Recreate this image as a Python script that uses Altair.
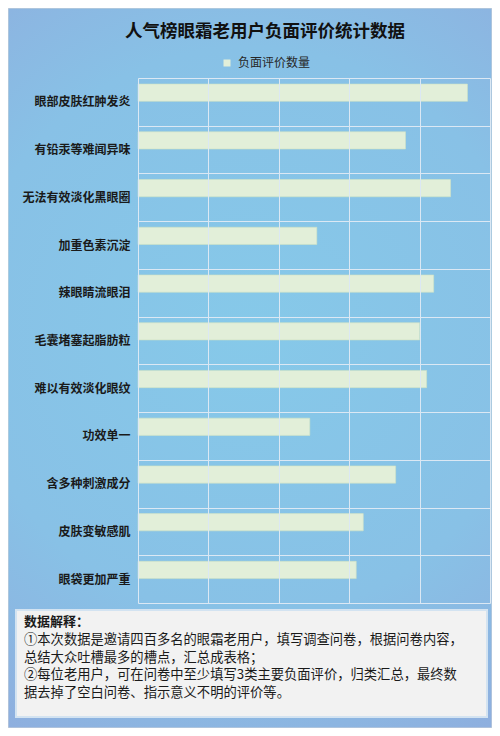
import altair as alt
import pandas as pd

categories = ["眼部皮肤红肿发炎", "有铅汞等难闻异味", "无法有效淡化黑眼圈", "加重色素沉淀",
              "辣眼睛流眼泪", "毛囊堵塞起脂肪粒", "难以有效淡化眼纹", "功效单一",
              "含多种刺激成分", "皮肤变敏感肌", "眼袋更加严重"]
values = [234, 190, 222, 127, 210, 200, 205, 122, 183, 160, 155]
series_name = "负面评价数量"
title_text = "人气榜眼霜老用户负面评价统计数据"
note_head = "数据解释："
note_lines = [
    "①本次数据是邀请四百多名的眼霜老用户，填写调查问卷，根据问卷内容，",
    "总结大众吐槽最多的槽点，汇总成表格；",
    "②每位老用户，可在问卷中至少填写3类主要负面评价，归类汇总，最终数",
    "据去掉了空白问卷、指示意义不明的评价等。",
]

FONT = "Noto Sans CJK SC"
GRID = "#dbe8f4"

df = pd.DataFrame({"cat": categories, "value": values, "series": series_name})

bg = alt.Chart(pd.DataFrame({"k": [0]})).mark_rect(
    fill=alt.RadialGradient(
        gradient="radial", x1=0.5, y1=0.45, r1=0, x2=0.5, y2=0.45, r2=0.72,
        stops=[alt.GradientStop(offset=0, color="#86c9e9"),
               alt.GradientStop(offset=0.55, color="#88c1e6"),
               alt.GradientStop(offset=1, color="#90a9dc")]),
    stroke="#cfd3d8", strokeWidth=1,
).encode(x=alt.value(-130), x2=alt.value(354), y=alt.value(-70), y2=alt.value(650))

bars = alt.Chart(df).mark_bar(stroke="#cfe3c4", strokeWidth=0.6).encode(
    y=alt.Y("cat:N", sort=categories,
            scale=alt.Scale(paddingInner=0, paddingOuter=0),
            axis=alt.Axis(title=None, labelFont=FONT, labelFontSize=12, labelFontWeight="bold",
                          labelColor="#1a1a1a", ticks=False, domain=False, labelPadding=8,
                          grid=True, tickBand="extent", gridColor=GRID, gridOpacity=1, zindex=1)),
    x=alt.X("value:Q", scale=alt.Scale(domain=[0, 250], nice=False),
            axis=alt.Axis(title=None, labels=False, ticks=False, domain=False, grid=True,
                          values=[0, 50, 100, 150, 200, 250], gridColor=GRID, gridOpacity=1,
                          zindex=1)),
    yOffset=alt.YOffset("series:N",
                        scale=alt.Scale(domain=[series_name, "_"], paddingInner=0.06, paddingOuter=0.33)),
    color=alt.Color("series:N", scale=alt.Scale(domain=[series_name], range=["#e2efd9"]),
                    legend=alt.Legend(orient="none", legendX=83, legendY=-21, title=None,
                                      symbolType="square", symbolSize=49, symbolStrokeWidth=0,
                                      labelFont=FONT, labelFontSize=12, labelColor="#262626",
                                      labelOffset=5, padding=0)),
)

title = alt.Chart(pd.DataFrame({"t": [title_text]})).mark_text(
    font=FONT, fontSize=17.5, fontWeight="bold", color="#111111", align="center", baseline="middle"
).encode(text="t:N", x=alt.value(127), y=alt.value(-46))

box = alt.Chart(pd.DataFrame({"k": [0]})).mark_rect(
    fill="#f2f2f2", stroke="#d3e3f1", strokeWidth=2
).encode(x=alt.value(-122), x2=alt.value(349), y=alt.value(532), y2=alt.value(639))

head = alt.Chart(pd.DataFrame({"t": [note_head]})).mark_text(
    font=FONT, fontSize=13, fontWeight="bold", color="#1a1a1a", align="left", baseline="middle"
).encode(text="t:N", x=alt.value(-114), y=alt.value(543.5))

line_layers = []
for i, line in enumerate(note_lines):
    line_layers.append(
        alt.Chart(pd.DataFrame({"t": [line]})).mark_text(
            font=FONT, fontSize=13.3, color="#1a1a1a", align="left", baseline="middle"
        ).encode(text="t:N", x=alt.value(-114), y=alt.value(562 + 17.7 * i))
    )

chart = alt.layer(bg, bars, title, box, head, *line_layers).properties(
    width=352, height=525,
    padding={"left": 130, "top": 70, "right": 2, "bottom": 125},
    autosize=alt.AutoSizeParams(type="none"),
).configure_view(stroke=GRID).configure(background="#8fb0de")

chart.save("out.html", embed_options={"renderer": "svg", "actions": False})
